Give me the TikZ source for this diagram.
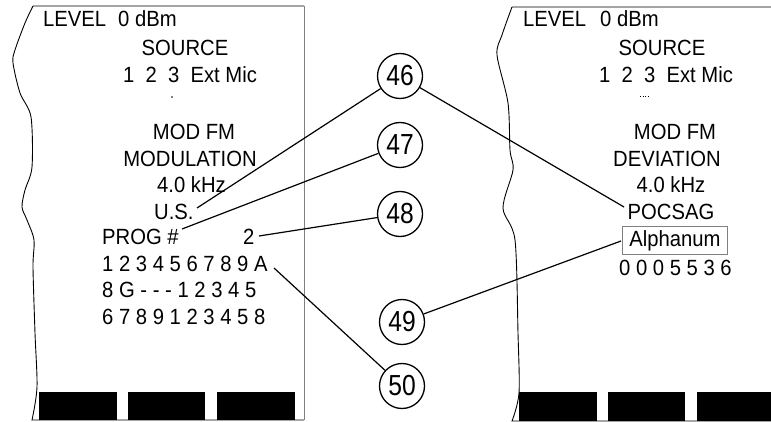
\documentclass[tikz,border=0pt]{standalone}
\usepackage{fontspec}
\setmainfont{Liberation Sans}[FakeStretch=0.92]
\newfontfamily\calloutfont{Liberation Sans}[FakeStretch=0.85]
\begin{document}
\begin{tikzpicture}[x=1pt,y=-1pt,
  txt/.style={font=\fontsize{22}{24}\selectfont, inner sep=0pt},
  num/.style={circle, draw, line width=1.3pt, minimum size=45pt, inner sep=0pt, font=\calloutfont\fontsize{29}{31}\selectfont},
  edgeline/.style={line width=0.9pt},
  conn/.style={line width=1.2pt},
  softkey/.style={fill=black}]
\useasboundingbox (0,0) rectangle (771,422);

% left panel outline
\draw[edgeline] (304,6) -- (33,6)
  plot[smooth, tension=0.5] coordinates {(33,6) (25,23) (15,50) (13,63) (20,93) (31,117) (32,167) (25,190) (22,207) (27,220) (34,240) (33,267) (35,333) (37,387) (32,420)}
  -- (304,420);
\draw[line width=0.9pt, gray] (304,6) -- (304,420);

% right panel outline
\draw[edgeline] (771,7) -- (512,7)
  plot[smooth, tension=0.5] coordinates {(512,7) (502,35) (497,55) (508,103) (510,150) (513,170) (503,208) (515,240) (518,333) (519,393) (512,421)}
  -- (771,421);

% softkey bars
\fill[softkey] (39,392) rectangle (117,420);
\fill[softkey] (128,392) rectangle (205,420);
\fill[softkey] (217,392) rectangle (295,420);
\fill[softkey] (519,392) rectangle (597,421);
\fill[softkey] (608,392) rectangle (685,421);
\fill[softkey] (697,392) rectangle (771,421);

% left panel text
\node[txt, anchor=base west] (l1) at (43,27) {LEVEL};
\node[txt, anchor=base west] (l1b) at (118,27) {0 dBm};
\node[txt, anchor=base] (l2) at (185,56) {SOURCE};
\node[txt, anchor=base] (l3) at (190,83) {1\ \ 2\ \ 3\ \ Ext Mic};
\fill (172,97) circle (0.8);
\node[txt, anchor=base] (l4) at (194,140) {MOD FM};
\node[txt, anchor=base] (l5) at (190,167) {MODULATION};
\node[txt, anchor=base west] (l6) at (157,193) {4.0 kHz};
\node[txt, anchor=base west] (l7) at (154,220) {U.S.};
\node[txt, anchor=base west] (l8) at (102,244) {PROG \#};
\node[txt, anchor=base west] (l8b) at (243,244) {2};
\node[txt, anchor=base west] (l9) at (102,271) {1 2 3 4 5 6 7 8 9 A};
\node[txt, anchor=base west] (l10) at (102,297) {8 G - - - 1 2 3 4 5};
\node[txt, anchor=base west] (l11) at (102,324) {6 7 8 9 1 2 3 4 5 8};

% right panel text
\node[txt, anchor=base west] (r1) at (523,27) {LEVEL};
\node[txt, anchor=base west] (r1b) at (600,27) {0 dBm};
\node[txt, anchor=base] (r2) at (662,56) {SOURCE};
\node[txt, anchor=base] (r3) at (666,83) {1\ \ 2\ \ 3\ \ Ext Mic};
\draw[dotted, line width=0.6pt] (640,96) -- (648,96);
\node[txt, anchor=base] (r4) at (675,140) {MOD FM};
\node[txt, anchor=base] (r5) at (667,167) {DEVIATION};
\node[txt, anchor=base] (r6) at (671,193) {4.0 kHz};
\node[txt, anchor=base] (r7) at (671,220) {POCSAG};
\node[txt, draw=gray, line width=0.7pt, minimum width=105pt, minimum height=28pt] (r8) at (675,240.5) {Alphanum};
\node[txt, anchor=base west] (r9) at (619,276) {0 0 0 5 5 3 6};

% callout circles
\node[num] (c46) at (400,76) {46};
\node[num] (c47) at (400,145) {47};
\node[num] (c48) at (400,214) {48};
\node[num] (c49) at (402,322) {49};
\node[num] (c50) at (402,386) {50};

% connector ends
\coordinate (e46a) at (197,208);
\coordinate (e46b) at (624,207);
\coordinate (e47) at (182,229);
\coordinate (e48) at (259,236);
\coordinate (e49) at (621,241);
\coordinate (e50) at (274,268);

\draw[conn] (c46) -- (e46a);
\draw[conn] (c46) -- (e46b);
\draw[conn] (c47) -- (e47);
\draw[conn] (c48) -- (e48);
\draw[conn] (c49) -- (e49);
\draw[conn] (c50) -- (e50);
\end{tikzpicture}
\end{document}
